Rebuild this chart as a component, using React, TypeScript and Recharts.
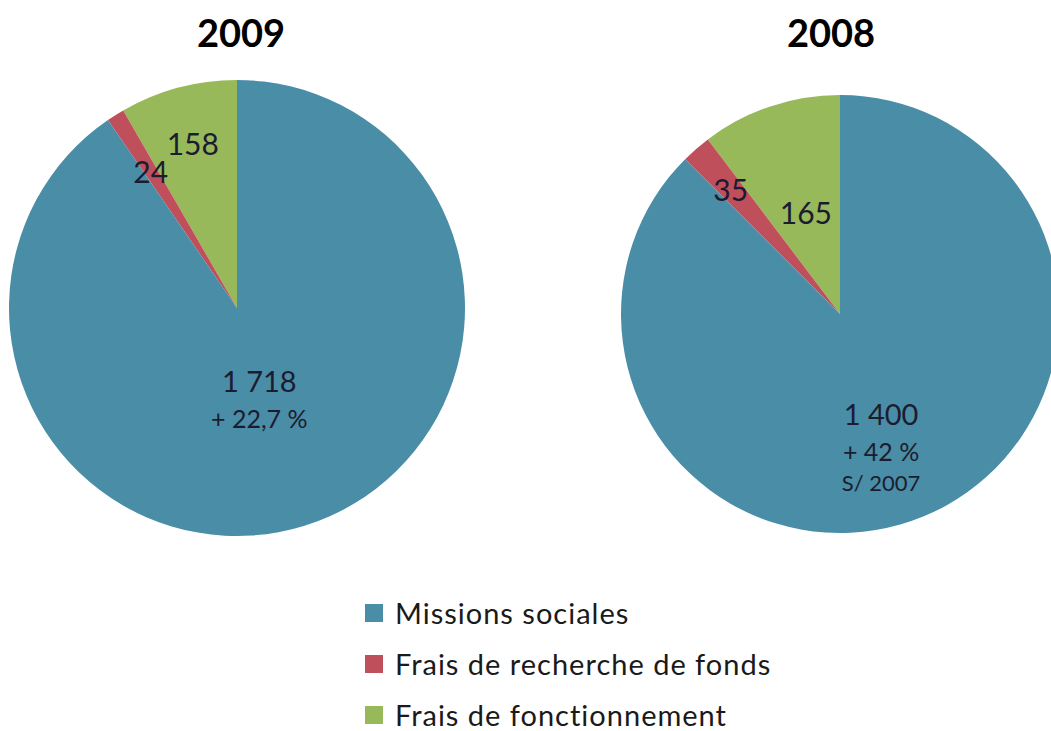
import React from 'react';
import { PieChart, Pie, Cell } from 'recharts';

const categories = ['Frais de fonctionnement', 'Frais de recherche de fonds', 'Missions sociales'];
const values2009 = [158, 24, 1718];
const values2008 = [165, 35, 1400];
const labels2009 = ['158', '24', '1 718'];
const labels2008 = ['165', '35', '1 400'];
const notes2009 = ['+ 22,7 %'];
const notes2008 = ['+ 42 %', 'S/ 2007'];
const legendOrder = ['Missions sociales', 'Frais de recherche de fonds', 'Frais de fonctionnement'];

const COLORS: Record<string, string> = {
  'Missions sociales': '#4a8da6',
  'Frais de recherche de fonds': '#c04f5c',
  'Frais de fonctionnement': '#98b95a',
};

const FONT = 'Lato, "Open Sans", sans-serif';
const RADIAN = Math.PI / 180;

const data2009 = categories.map((name, i) => ({ name, value: values2009[i], label: labels2009[i] }));
const data2008 = categories.map((name, i) => ({ name, value: values2008[i], label: labels2008[i] }));

const makeLabel = (radii: number[], notes: string[], noteSizes: number[]) => (props: any) => {
  const { cx, cy, midAngle, outerRadius, index, payload } = props;
  const r = outerRadius * radii[index];
  const x = cx + r * Math.cos(-midAngle * RADIAN);
  const y = cy + r * Math.sin(-midAngle * RADIAN);
  const isMain = index === 2;
  return (
    <text
      x={x}
      y={y}
      textAnchor="middle"
      dominantBaseline="central"
      fill="#1c1c30"
      fontFamily={FONT}
      fontSize={isMain ? 29 : 30}
    >
      <tspan x={x} dy={0}>{payload.label}</tspan>
      {isMain &&
        notes.map((n, i) => (
          <tspan key={n} x={x} dy={i === 0 ? 38 : 31} fontSize={noteSizes[i]}>
            {n}
          </tspan>
        ))}
    </text>
  );
};

export default function App() {
  return (
    <div style={{ position: 'absolute', left: 0, top: 0, width: 1051, height: 731, background: '#fff', overflow: 'hidden' }}>
      <div style={{ position: 'absolute', left: 141, width: 200, top: 9, textAlign: 'center', fontFamily: FONT, fontWeight: 700, fontSize: 38 }}>
        2009
      </div>
      <div style={{ position: 'absolute', left: 731, width: 200, top: 9, textAlign: 'center', fontFamily: FONT, fontWeight: 700, fontSize: 38 }}>
        2008
      </div>
      <PieChart width={1051} height={580} margin={{ top: 0, right: 0, bottom: 0, left: 0 }} style={{ position: 'absolute', left: 0, top: 0 }}>
        <Pie
          data={data2009}
          dataKey="value"
          cx={237}
          cy={308}
          outerRadius={228}
          startAngle={90}
          endAngle={450}
          stroke="none"
          labelLine={false}
          label={makeLabel([0.75, 0.71, 0.33], notes2009, [25])}
          isAnimationActive={false}
        >
          {data2009.map((d) => (
            <Cell key={d.name} fill={COLORS[d.name]} />
          ))}
        </Pie>
        <Pie
          data={data2008}
          dataKey="value"
          cx={840}
          cy={314}
          outerRadius={219}
          startAngle={90}
          endAngle={450}
          stroke="none"
          labelLine={false}
          label={makeLabel([0.49, 0.76, 0.49], notes2008, [25, 22])}
          isAnimationActive={false}
        >
          {data2008.map((d) => (
            <Cell key={d.name} fill={COLORS[d.name]} />
          ))}
        </Pie>
      </PieChart>
      <div style={{ position: 'absolute', left: 365, top: 599, fontFamily: FONT, fontSize: 29, letterSpacing: 1, color: '#1a1a1a' }}>
        {legendOrder.map((name, i) => (
          <div key={name} style={{ display: 'flex', alignItems: 'center', height: 28, lineHeight: '28px', marginBottom: i < 2 ? 23 : 0 }}>
            <span style={{ display: 'inline-block', width: 18, height: 18, background: COLORS[name], marginRight: 12 }} />
            <span>{name}</span>
          </div>
        ))}
      </div>
    </div>
  );
}
